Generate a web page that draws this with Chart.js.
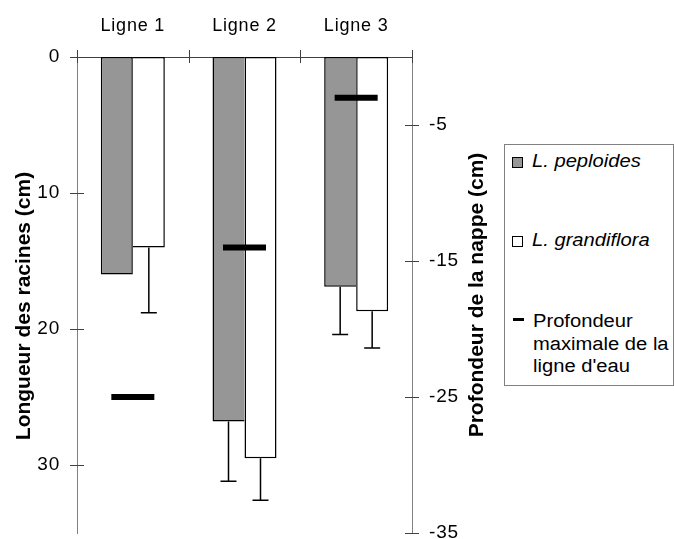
<!DOCTYPE html>
<html><head><meta charset="utf-8">
<script src="https://cdn.jsdelivr.net/npm/chart.js@4/dist/chart.umd.min.js"></script>
<style>
html,body{margin:0;padding:0;background:#fff;overflow:hidden;}
#wrap{position:relative;width:674px;height:539px;overflow:hidden;}
#c{position:absolute;left:0;top:0;}
#legend{position:absolute;left:504px;top:144px;width:168px;height:240px;border:1px solid #808080;background:#fff;font-family:'Liberation Sans',Arial,sans-serif;font-size:18px;color:#000;}
#legend .t{position:absolute;white-space:nowrap;transform:scaleX(1.12);transform-origin:0 0;line-height:20px;}
#legend .sq{position:absolute;width:9px;height:9px;border:1px solid #000;}
#legend .dash{position:absolute;width:11px;height:3px;background:#000;}
</style></head>
<body>
<div id="wrap">
<canvas id="c" width="674" height="539"></canvas>
<div id="legend">
  <div class="sq" style="left:7px;top:12px;background:#969696;"></div>
  <div class="t" style="left:27px;top:6px;font-style:italic;">L. peploides</div>
  <div class="sq" style="left:7px;top:91px;background:#fff;"></div>
  <div class="t" style="left:27px;top:85px;font-style:italic;">L. grandiflora</div>
  <div class="dash" style="left:8px;top:173px;"></div>
  <div class="t" style="left:28px;top:165px;line-height:22.5px;">Profondeur<br>maximale de la<br>ligne d'eau</div>
</div>
</div>
<script>
const categories = ['Ligne 1', 'Ligne 2', 'Ligne 3'];
const peploides = [16, 26.8, 16.9];
const peploidesErr = [0, 4.4, 3.5];
const grandiflora = [14, 29.5, 18.7];
const grandifloraErr = [4.8, 3.1, 2.7];
const waterDepth = [-25, -14, -3];
const leftTicks = [0, 10, 20, 30];
const rightTicks = [-35, -25, -15, -5];
const leftTitle = 'Longueur des racines (cm)';
const rightTitle = 'Profondeur de la nappe (cm)';

const FONT = "'Liberation Sans', Arial, sans-serif";
const GREY = '#969696';

const spacingPlugin = {
  id: 'spacing',
  beforeDraw(chart) { chart.ctx.letterSpacing = '0.8px'; }
};

const errorBars = {
  id: 'errorBars',
  afterDatasetsDraw(chart) {
    const ctx = chart.ctx;
    chart.data.datasets.forEach((ds, di) => {
      if (!ds.errors) return;
      const meta = chart.getDatasetMeta(di);
      const ys = chart.scales[meta.yAxisID];
      meta.data.forEach((bar, i) => {
        const e = ds.errors[i];
        if (!e) return;
        const y0 = ys.getPixelForValue(ds.data[i]);
        const y1 = ys.getPixelForValue(ds.data[i] + e);
        ctx.save();
        ctx.strokeStyle = '#000';
        ctx.lineWidth = 1.5;
        ctx.beginPath();
        ctx.moveTo(bar.x, y0); ctx.lineTo(bar.x, y1);
        ctx.moveTo(bar.x - 8, y1); ctx.lineTo(bar.x + 8, y1);
        ctx.stroke();
        ctx.restore();
      });
    });
  }
};

const axisDecor = {
  id: 'axisDecor',
  afterDraw(chart) {
    const ctx = chart.ctx;
    const {x, y, y2} = chart.scales;
    ctx.save();
    ctx.strokeStyle = '#404040';
    ctx.lineWidth = 1;
    ctx.beginPath();
    y.ticks.forEach(t => { const p = Math.round(y.getPixelForValue(t.value)) + 0.5; ctx.moveTo(y.right - 7, p); ctx.lineTo(y.right + 7, p); });
    y2.ticks.forEach(t => { const p = Math.round(y2.getPixelForValue(t.value)) + 0.5; ctx.moveTo(y2.left - 7, p); ctx.lineTo(y2.left + 7, p); });
    const n = categories.length;
    const w = (x.right - x.left) / n;
    for (let k = 0; k <= n; k++) {
      const px = Math.round(x.left + k * w) + 0.5;
      ctx.moveTo(px, x.bottom - 7); ctx.lineTo(px, x.bottom + 6);
    }
    ctx.stroke();
    ctx.letterSpacing = '0px';
    ctx.fillStyle = '#000';
    ctx.font = 'bold 21px ' + FONT;
    ctx.textAlign = 'center';
    ctx.textBaseline = 'middle';
    ctx.save(); ctx.translate(24, 306); ctx.rotate(-Math.PI / 2); ctx.fillText(leftTitle, 0, 0); ctx.restore();
    ctx.save(); ctx.translate(477, 295); ctx.rotate(-Math.PI / 2); ctx.fillText(rightTitle, 0, 0); ctx.restore();
    ctx.restore();
  }
};

function bw(own, other, side) {
  return ctx => {
    const i = ctx.dataIndex;
    const o = {top: 1.5, bottom: 1.5, left: 1.5, right: 1.5};
    if (own[i] < other[i]) o[side] = 0;
    return o;
  };
}

function noPad(s) { s.paddingTop = 0; s.paddingBottom = 0; s.paddingLeft = 0; s.paddingRight = 0; }

new Chart(document.getElementById('c'), {
  type: 'bar',
  plugins: [spacingPlugin, errorBars, axisDecor],
  data: {
    labels: categories,
    datasets: [
      {
        type: 'line', label: 'Profondeur maximale de la ligne d\'eau', data: waterDepth, yAxisID: 'y2',
        showLine: false, pointStyle: 'line', pointRadius: 21.5, pointHoverRadius: 21.5,
        pointBorderWidth: 6, borderColor: '#000', backgroundColor: '#000', order: 0, clip: false
      },
      {
        label: 'L. peploides', data: peploides, errors: peploidesErr, yAxisID: 'y',
        backgroundColor: GREY, borderColor: '#000', borderWidth: bw(peploides, grandiflora, 'right'),
        borderSkipped: false, categoryPercentage: 0.573, barPercentage: 1, order: 1
      },
      {
        label: 'L. grandiflora', data: grandiflora, errors: grandifloraErr, yAxisID: 'y',
        backgroundColor: '#fff', borderColor: '#000', borderWidth: bw(grandiflora, peploides, 'left'),
        borderSkipped: false, categoryPercentage: 0.573, barPercentage: 1, order: 1
      }
    ]
  },
  options: {
    responsive: false,
    animation: false,
    events: [],
    layout: {autoPadding: false, padding: {top: 0, left: 0, right: 192, bottom: 6}},
    plugins: {legend: {display: false}, tooltip: {enabled: false}},
    scales: {
      x: {
        type: 'category', position: 'top', offset: true,
        grid: {display: false, drawTicks: false},
        border: {display: true, color: '#404040', width: 1},
        ticks: {color: '#000', padding: 20, font: {family: FONT, size: 18}},
        afterFit(s) { s.height = 57; noPad(s); }
      },
      y: {
        position: 'left', reverse: true, min: 0, max: 35,
        grid: {display: false, drawTicks: false},
        border: {display: true, color: '#808080', width: 1},
        ticks: {color: '#000', padding: 17, font: {family: FONT, size: 19}},
        afterBuildTicks(s) { s.ticks = leftTicks.map(v => ({value: v})); },
        afterFit(s) { s.width = 77; noPad(s); }
      },
      y2: {
        position: 'right', min: -35, max: 0,
        grid: {display: false, drawTicks: false},
        border: {display: true, color: '#808080', width: 1},
        ticks: {color: '#000', padding: 17, font: {family: FONT, size: 19}},
        afterBuildTicks(s) { s.ticks = rightTicks.map(v => ({value: v})); },
        afterFit(s) { s.width = 70; noPad(s); }
      }
    }
  }
});
</script>
</body></html>
